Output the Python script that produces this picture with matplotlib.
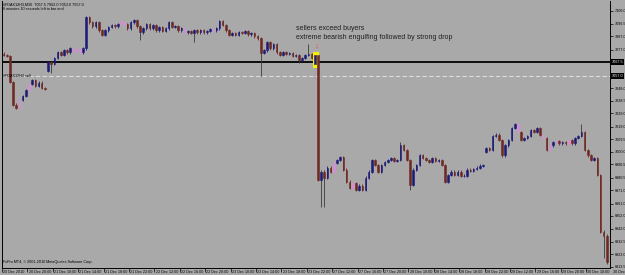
"""FDAX M30 chart - bearish engulfing followed by strong drop
"""

import matplotlib.pyplot as plt
from matplotlib.patches import Rectangle
from matplotlib.transforms import blended_transform_factory

plt.rcParams['font.family'] = ['Liberation Sans', 'DejaVu Sans']

# closing prices, one per bar
closes = [
    7073.0, 7072.0, 7052.5, 7035.5, 7033.0, 7039.0, 7042.0, 7046.5, 7051.0, 7054.0,
    7049.5, 7052.0, 7048.0, 7047.5, 7067.5, 7066.0, 7070.5, 7075.0, 7073.0, 7076.5,
    7075.0, 7078.0, 7076.0, 7077.5, 7075.0, 7078.0, 7101.5, 7097.5, 7094.5, 7097.5,
    7091.5, 7088.0, 7091.5, 7094.0, 7095.5, 7094.5, 7096.0, 7097.5, 7096.0, 7093.0,
    7097.5, 7099.0, 7094.5, 7090.0, 7093.0, 7096.0, 7093.0, 7095.5, 7091.5, 7094.0,
    7091.0, 7093.0, 7097.5, 7094.0, 7094.5, 7091.5, 7093.0, 7090.0, 7091.0, 7089.5,
    7091.5, 7090.0, 7091.5, 7090.0, 7091.0, 7092.5, 7091.5, 7093.0, 7098.5, 7095.5,
    7091.5, 7088.0, 7089.5, 7088.0, 7090.0, 7089.5, 7091.0, 7088.5, 7089.5, 7087.0,
    7085.5, 7074.5, 7076.5, 7082.5, 7078.0, 7081.0, 7075.0, 7073.0, 7075.0, 7073.5,
    7074.5, 7072.0, 7073.0, 7069.0, 7070.5, 7073.0, 7073.5, 7070.5, 7073.0, 6979.0,
    6985.0, 6980.5, 6988.0, 6985.0, 6991.5, 6994.0, 6996.0, 6986.5, 6977.5, 6973.0,
    6976.5, 6971.5, 6974.5, 6971.5, 6980.5, 6985.0, 6994.0, 6990.0, 6985.0, 6990.0,
    6992.5, 6994.0, 6995.5, 6993.0, 6994.0, 7005.0, 7001.5, 6994.0, 6975.0, 6986.5,
    6990.0, 6997.5, 6995.5, 6994.0, 6992.5, 6995.5, 6993.0, 6994.0, 6990.0, 6977.5,
    6982.5, 6985.0, 6982.5, 6985.0, 6982.0, 6982.0, 6986.5, 6985.5, 6987.0, 6988.0,
    6989.5, 6990.0, 7003.0, 7001.5, 7012.0, 7013.0, 7009.0, 6997.5, 7005.0, 7009.0,
    7018.0, 7021.0, 7015.0, 7009.0, 7010.5, 7012.0, 7016.5, 7015.0, 7018.0, 7013.0,
    7010.5, 7001.5, 7005.0, 7007.5, 7008.0, 7006.5, 7007.5, 7006.5, 7009.0, 7006.5,
    7010.5, 7012.0, 7015.0, 7001.5, 6997.5, 6994.0, 6995.5, 6982.5, 6940.0, 6937.0,
    6917.0,
]
# bars that open away from the previous close
gap_opens = {0: 7074.0, 14: 7061.0, 98: 7066.0, 152: 7000.0}
# long shadows
wick_lows = {15: 7059.5, 43: 7084.0, 60: 7082.5, 81: 7057.0, 93: 7067.0,
             100: 6958.5, 101: 6958.5, 128: 6971.5, 157: 6996.0,
             189: 6920.5, 190: 6915.5}
wick_highs = {96: 7081.0, 98: 7075.0, 125: 7007.5, 182: 7021.0}
pink_bars = [5, 8, 22, 23, 24, 37, 38, 57, 66, 104, 110, 162, 170, 172, 174, 178]

price_ticks = [7106.0, 7096.5, 7087.0, 7077.0, 7048.0, 7038.5, 7029.0, 7019.0,
               7009.5, 7000.0, 6990.5, 6980.5, 6971.0, 6961.0, 6952.0, 6942.0,
               6932.5, 6923.0, 6913.5]
date_labels = ['20 Dec 2010', '20 Dec 20:00', '21 Dec 10:00', '21 Dec 14:00',
               '21 Dec 18:00', '21 Dec 22:00', '22 Dec 12:00', '22 Dec 16:00',
               '22 Dec 20:00', '23 Dec 10:00', '23 Dec 14:00', '23 Dec 18:00',
               '23 Dec 22:00', '27 Dec 12:00', '27 Dec 16:00', '27 Dec 20:00',
               '28 Dec 10:00', '28 Dec 14:00', '28 Dec 18:00', '28 Dec 22:00',
               '29 Dec 12:00', '29 Dec 16:00', '29 Dec 20:00', '30 Dec 10:00',
               '30 Dec 14:00']
bars_per_label = 8

level_line = 7067.5
sell_line = 7057.0
box_bars = (98, 99)
box_lo, box_hi = 7063.0, 7075.5

BG = '#a9a9a9'
BULL = '#1c1c78'
BEAR = '#6e2a22'
PINK = '#d68ed6'
SMALL = 2.7

fig = plt.figure(figsize=(6.25, 2.75), dpi=100, facecolor=BG)
ax = fig.add_axes([2 / 625, 7.5 / 275, 608 / 625, 266.5 / 275], facecolor=BG)

opens = [gap_opens.get(i, closes[i - 1] if i else closes[0])
         for i in range(len(closes))]

for i, (o, c) in enumerate(zip(opens, closes)):
    if i in pink_bars:
        col = PINK
    elif c >= o:
        col = BULL
    else:
        col = BEAR
    hi = wick_highs.get(i, max(o, c) + 1.0)
    lo = wick_lows.get(i, min(o, c) - 1.0)
    wcol = '#3a3a3a' if (i in wick_lows or i in wick_highs) else col
    ax.vlines(i, lo, hi, color=wcol, lw=0.6, zorder=2)
    ax.bar(i, c - o, bottom=o, width=0.5, color=col, edgecolor=col,
           lw=0.4, zorder=3)

# levels
ax.axhline(level_line, color='black', lw=1.3, zorder=1)
ax.axhline(sell_line, color='#dcdcdc', lw=0.8, ls=(0, (4, 2)), zorder=1)

# highlight of the engulfing candle
ax.add_patch(Rectangle((box_bars[0] - 0.6, box_lo), box_bars[1] - box_bars[0] + 0.9,
                       box_hi - box_lo, facecolor='#f4f000', edgecolor='none',
                       zorder=2.5))
ax.text(box_bars[0] + 0.5, box_hi + 3.5, '\u21e9', color='#e05858',
        fontsize=4, ha='center', va='center', zorder=4, family='DejaVu Sans')

ax.text(92, 7092.5, 'sellers exceed buyers', fontsize=5, color='#202020',
        va='center')
ax.text(92, 7086.3, 'extreme bearish engulfing followed by strong drop',
        fontsize=5, color='#202020', va='center')

# text overlays
ax.text(0.002, 0.995, '#FDAX12H3,M30  7057.5 7062.0 7053.0 7057.0',
        transform=ax.transAxes, fontsize=SMALL, va='top', color='black')
ax.text(0.002, 0.978, '6 minutes 10 seconds left to bar end',
        transform=ax.transAxes, fontsize=SMALL, va='top', color='black')
ax.text(0.002, sell_line, '#FDAX12H3 sell', fontsize=SMALL, va='center',
        color='black', transform=blended_transform_factory(ax.transAxes, ax.transData))
ax.text(0.002, 0.012, 'FxPro MT4, \u00a9 2001-2010 MetaQuotes Software Corp.',
        transform=ax.transAxes, fontsize=SMALL, va='bottom', color='black')

ax.set_xlim(-0.47, 191.0)
ax.set_ylim(6913.0, 7113.5)

# price axis on the right
ax.yaxis.tick_right()
ax.set_yticks(price_ticks)
ax.set_yticklabels(['%.1f' % p for p in price_ticks])
ax.tick_params(axis='y', length=2, width=0.5, labelsize=SMALL, pad=1.2,
               colors='black')
ytrans = blended_transform_factory(ax.transAxes, ax.transData)
for val in (level_line, sell_line):
    ax.text(1.003, val, '%.1f' % val, transform=ytrans, fontsize=SMALL,
            color='white', va='center', ha='left',
            bbox=dict(facecolor='black', edgecolor='none', pad=0.5))

# time axis
tick_pos = [k * bars_per_label - 0.5 for k in range(len(date_labels))]
ax.set_xticks([t for t in tick_pos if t < 191.0])
ax.set_xticklabels([])
ax.tick_params(axis='x', length=3, width=0.5, colors='black')
xtrans = blended_transform_factory(ax.transData, ax.transAxes)
for t, lab in zip(tick_pos, date_labels):
    ax.text(t + 0.4, -0.01, lab, transform=xtrans, fontsize=SMALL, ha='left',
            va='top', color='black', clip_on=False)

for side in ('left', 'bottom', 'right'):
    ax.spines[side].set_color('black')
    ax.spines[side].set_linewidth(0.7)
ax.spines['top'].set_visible(False)

plt.savefig('out.png', dpi=100, facecolor=BG)
